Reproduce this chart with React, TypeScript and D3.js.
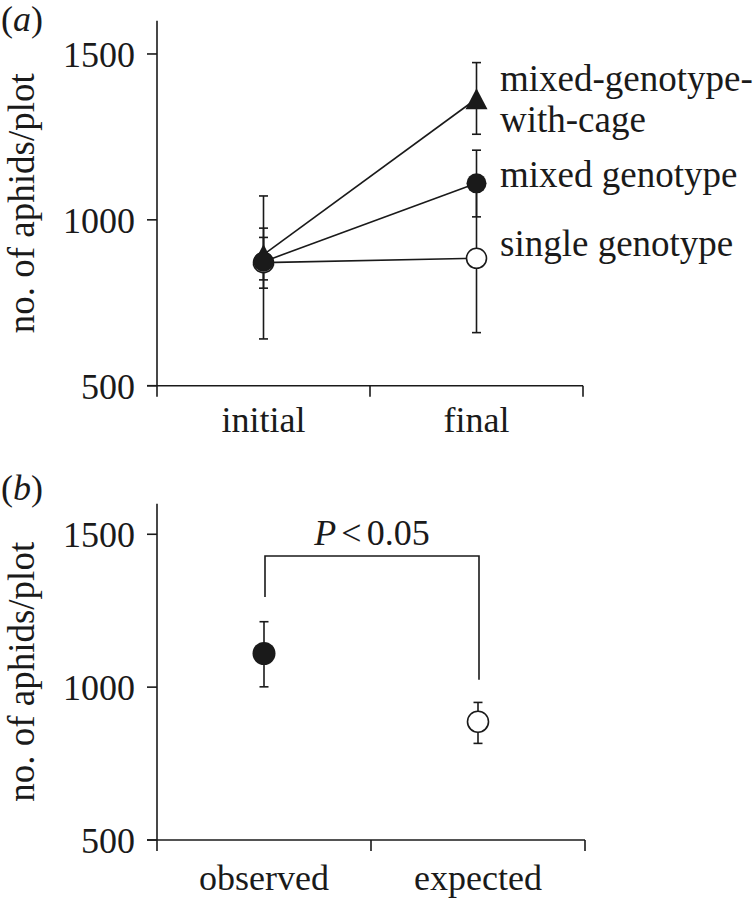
import React from "react";
import * as d3 from "d3";

// ---------- data ----------
const stagesA = ["initial", "final"];
const seriesNames = ["mixed-genotype-with-cage", "mixed genotype", "single genotype"];
const meanCage = [895, 1365];
const loCage = [819, 1258];
const hiCage = [975, 1474];
const meanMixed = [874, 1110];
const loMixed = [794, 1009];
const hiMixed = [947, 1210];
const meanSingle = [871, 884];
const loSingle = [641, 660];
const hiSingle = [1072, 1108];

const groupsB = ["observed", "expected"];
const meanB = [1110, 887];
const loB = [1001, 816];
const hiB = [1214, 950];

const yTicks = [500, 1000, 1500];
const pLabel = "0.05";

const FONT = "'Liberation Serif', 'Times New Roman', serif";
const FS = 36;
const SW = 1.6;

const trianglePath = (cx: number, cy: number, w: number, h: number) =>
  `M${cx},${cy - h / 2}L${cx + w / 2},${cy + h / 2}L${cx - w / 2},${cy + h / 2}Z`;

function ErrorBar({ x, y1, y2, cap = 9 }: { x: number; y1: number; y2: number; cap?: number }) {
  return (
    <g stroke="#1a1a1a" strokeWidth={SW}>
      <line x1={x} x2={x} y1={y1} y2={y2} />
      <line x1={x - cap / 2} x2={x + cap / 2} y1={y1} y2={y1} />
      <line x1={x - cap / 2} x2={x + cap / 2} y1={y2} y2={y2} />
    </g>
  );
}

function Axes({
  x0, x1, yScale, xScale, cats, baseY,
}: {
  x0: number; x1: number; yScale: d3.ScaleLinear<number, number>;
  xScale: d3.ScaleBand<string>; cats: string[]; baseY: number;
}) {
  const top = yScale(1600);
  const bottom = yScale(500);
  const mid = (top + bottom) / 2;
  const bounds = [x0, ...cats.slice(1).map((c) => xScale(c)!), x1];
  return (
    <g>
      <line x1={x0} x2={x0} y1={top} y2={bottom + 11} stroke="#1a1a1a" strokeWidth={SW} />
      <line x1={x0 - 10} x2={x1} y1={bottom} y2={bottom} stroke="#1a1a1a" strokeWidth={SW} />
      {bounds.slice(1).map((b, i) => (
        <line key={i} x1={b} x2={b} y1={bottom} y2={bottom + 11} stroke="#1a1a1a" strokeWidth={SW} />
      ))}
      {yTicks.map((t) => (
        <g key={t}>
          <line x1={x0 - 10} x2={x0} y1={yScale(t)} y2={yScale(t)} stroke="#1a1a1a" strokeWidth={SW} />
          <text x={135} y={yScale(t) + 13} textAnchor="end" fontSize={FS} fontFamily={FONT} fill="#1a1a1a">
            {t}
          </text>
        </g>
      ))}
      {cats.map((c) => (
        <text key={c} x={xScale(c)! + xScale.bandwidth() / 2} y={baseY} textAnchor="middle"
          fontSize={FS} fontFamily={FONT} fill="#1a1a1a">{c}</text>
      ))}
      <text transform={`translate(34,${mid}) rotate(-90)`} textAnchor="middle" fontSize={37}
        fontFamily={FONT} fill="#1a1a1a">no. of aphids/plot</text>
    </g>
  );
}

export default function App() {
  // panel a
  const yA = d3.scaleLinear().domain([500, 1600]).range([385.7, 20.8]);
  const xA = d3.scaleBand<string>().domain(stagesA).range([157, 583]);
  const cx = (s: string) => xA(s)! + xA.bandwidth() / 2;

  // panel b
  const yB = d3.scaleLinear().domain([500, 1600]).range([840, 503.7]);
  const xB = d3.scaleBand<string>().domain(groupsB).range([157, 585]);
  const cxB = (s: string) => xB(s)! + xB.bandwidth() / 2;

  const series = [
    { name: seriesNames[0], mean: meanCage, lo: loCage, hi: hiCage, kind: "tri" },
    { name: seriesNames[1], mean: meanMixed, lo: loMixed, hi: hiMixed, kind: "filled" },
    { name: seriesNames[2], mean: meanSingle, lo: loSingle, hi: hiSingle, kind: "open" },
  ];
  const drawOrder = [2, 0, 1].map((i) => series[i]);

  const line = d3.line<[number, number]>();

  const marker = (kind: string, x: number, y: number, key: string) => {
    if (kind === "tri") return <path key={key} d={trianglePath(x, y, 22, 21)} fill="#1a1a1a" />;
    if (kind === "filled") return <circle key={key} cx={x} cy={y} r={10} fill="#1a1a1a" />;
    return <circle key={key} cx={x} cy={y} r={10} fill="#fff" stroke="#1a1a1a" strokeWidth={SW} />;
  };

  const legendX = 500;
  const LFS = 37;

  // bracket in panel b
  const bracketTop = yB(1429);
  const leftLegEnd = yB(1295);
  const rightLegEnd = yB(1024);

  return (
    <svg width={756} height={899} style={{ position: "absolute", left: 0, top: 0, background: "#fff" }}>
      {/* panel labels */}
      <text x={1} y={31} fontSize={FS} fontFamily={FONT} fill="#1a1a1a">
        (<tspan fontStyle="italic">a</tspan>)
      </text>
      <text x={1} y={500} fontSize={FS} fontFamily={FONT} fill="#1a1a1a">
        (<tspan fontStyle="italic">b</tspan>)
      </text>

      {/* panel a */}
      <Axes x0={157} x1={583} yScale={yA} xScale={xA} cats={stagesA} baseY={432} />
      {drawOrder.map((s) => (
        <g key={s.name}>
          {stagesA.map((st, i) => (
            <ErrorBar key={st} x={cx(st)} y1={yA(s.hi[i])} y2={yA(s.lo[i])} />
          ))}
        </g>
      ))}
      {drawOrder.map((s) => (
        <path key={s.name} d={line(stagesA.map((st, i) => [cx(st), yA(s.mean[i])]))!}
          stroke="#1a1a1a" strokeWidth={SW} fill="none" />
      ))}
      {drawOrder.map((s) => stagesA.map((st, i) => marker(s.kind, cx(st), yA(s.mean[i]), s.name + st)))}

      {/* series labels */}
      <g fontSize={LFS} fontFamily={FONT} fill="#1a1a1a">
        <text x={legendX} y={yA(meanCage[1]) - 8}>mixed-genotype-</text>
        <text x={legendX} y={yA(meanCage[1]) + 33}>with-cage</text>
        <text x={legendX} y={yA(meanMixed[1]) + 4}>{seriesNames[1]}</text>
        <text x={legendX} y={yA(meanSingle[1]) - 2}>{seriesNames[2]}</text>
      </g>

      {/* panel b */}
      <Axes x0={157} x1={585} yScale={yB} xScale={xB} cats={groupsB} baseY={890} />
      {groupsB.map((g, i) => (
        <ErrorBar key={g} x={cxB(g)} y1={yB(hiB[i])} y2={yB(loB[i])} />
      ))}
      <circle cx={cxB(groupsB[0])} cy={yB(meanB[0])} r={11.5} fill="#1a1a1a" />
      <circle cx={cxB(groupsB[1])} cy={yB(meanB[1])} r={10.5} fill="#fff" stroke="#1a1a1a" strokeWidth={SW} />

      <path
        d={`M${cxB(groupsB[0]) + 1},${leftLegEnd}V${bracketTop}H${cxB(groupsB[1]) + 1}V${rightLegEnd}`}
        fill="none" stroke="#1a1a1a" strokeWidth={SW}
      />
      <text x={(cxB(groupsB[0]) + cxB(groupsB[1])) / 2 + 1} y={545} textAnchor="middle"
        fontSize={FS} fontFamily={FONT} fill="#1a1a1a">
        <tspan fontStyle="italic">P</tspan>
        <tspan dx={5}>{"<"}</tspan>
        <tspan dx={5}>{pLabel}</tspan>
      </text>
    </svg>
  );
}
